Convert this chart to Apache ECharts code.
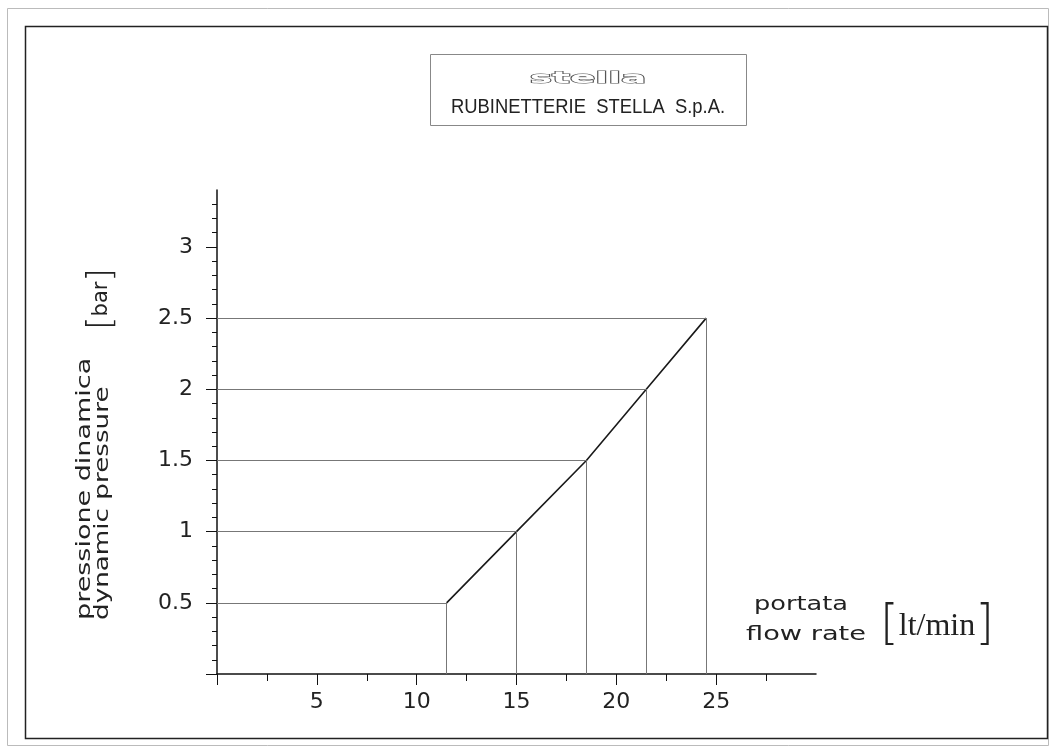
<!DOCTYPE html>
<html>
<head>
<meta charset="utf-8">
<title>stella - pressione / portata</title>
<script src="https://cdn.jsdelivr.net/npm/echarts@6/dist/echarts.min.js"></script>
<style>
    html, body { margin: 0; padding: 0; background: #fff; }
    #chart { width: 1055px; height: 754px; }
</style>
</head>
<body>
<div id="chart"></div>
<script>
// curva portata / pressione
const flowRate = [11.5, 15, 18.5, 21.5, 24.5];   // lt/min
const pressure = [0.5, 1, 1.5, 2, 2.5];          // bar

// tick labels
const xTickLabels = [5, 10, 15, 20, 25];
const yTickLabels = [0.5, 1, 1.5, 2, 2.5, 3];
const xMajorTicks = [0, 5, 10, 15, 20, 25];
const xMinorTicks = [0, 2.5, 5, 7.5, 10, 12.5, 15, 17.5, 20, 22.5, 25, 27.5];
const yMajorTicks = [0, 0.5, 1, 1.5, 2, 2.5, 3];
const yMinorTicks = [];
for (let i = 0; i <= 33; i++) yMinorTicks.push(i / 10);

const ink = '#222';
const font = 'DejaVu Sans';

let mychart = echarts.init(document.getElementById('chart'));

// linee di richiamo punto -> assi
let guides = [];
flowRate.forEach(function (x, i) {
    guides.push([{ coord: [0, pressure[i]] }, { coord: [x, pressure[i]] }]);
    guides.push([{ coord: [x, pressure[i]] }, { coord: [x, 0] }]);
});

let option = {
    animation: false,
    backgroundColor: '#fff',
    grid: { left: 217, right: 239, top: 190, bottom: 80 },
    xAxis: [
        {
            type: 'value', min: 0, max: 30,
            axisLine: { lineStyle: { color: '#111', width: 1.5 } },
            axisTick: { customValues: xMinorTicks, length: 7, lineStyle: { color: '#111' } },
            axisLabel: { show: false },
            splitLine: { show: false }
        },
        {
            type: 'value', min: 0, max: 30, position: 'bottom',
            axisLine: { show: false },
            axisTick: { customValues: xMajorTicks, length: 11, lineStyle: { color: '#111' } },
            axisLabel: {
                customValues: xTickLabels, margin: 17,
                color: ink, fontSize: 22, fontFamily: font
            },
            splitLine: { show: false }
        }
    ],
    yAxis: [
        {
            type: 'value', min: 0, max: 3.4,
            axisLine: { show: true, lineStyle: { color: '#111', width: 1.5 } },
            axisTick: { show: true, customValues: yMinorTicks, length: 5, lineStyle: { color: '#111' } },
            axisLabel: { show: false },
            splitLine: { show: false }
        },
        {
            type: 'value', min: 0, max: 3.4, position: 'left',
            axisLine: { show: false },
            axisTick: { show: true, customValues: yMajorTicks, length: 11, lineStyle: { color: '#111' } },
            axisLabel: {
                customValues: yTickLabels, margin: 24,
                color: ink, fontSize: 22, fontFamily: font
            },
            splitLine: { show: false }
        }
    ],
    series: [
        {
            type: 'line',
            xAxisIndex: 0,
            yAxisIndex: 0,
            data: flowRate.map(function (x, i) { return [x, pressure[i]]; }),
            showSymbol: false,
            lineStyle: { color: '#1a1a1a', width: 1.6 },
            markLine: {
                silent: true,
                symbol: 'none',
                label: { show: false },
                lineStyle: { color: '#777', width: 1, type: 'solid' },
                data: guides
            }
        }
    ],
    graphic: [
        // cornici
        { type: 'rect', shape: { x: 7.5, y: 8.5, width: 1041, height: 737 },
          style: { fill: null, stroke: '#bbb', lineWidth: 1 } },
        { type: 'rect', shape: { x: 25.5, y: 26.5, width: 1022, height: 712 },
          style: { fill: null, stroke: '#222', lineWidth: 1.5 } },
        // logo
        { type: 'rect', shape: { x: 430.5, y: 54.5, width: 316, height: 71 },
          style: { fill: null, stroke: '#888', lineWidth: 1 } },
        { type: 'text', x: 588, y: 79, scaleX: 2.5, scaleY: 1,
          style: { text: 'stella', fontFamily: font, fontSize: 15, fontWeight: 'bold',
                   fill: '#fff', stroke: '#555', lineWidth: 1,
                   align: 'center', verticalAlign: 'middle' } },
        { type: 'text', x: 588, y: 107, scaleX: 0.92,
          style: { text: 'RUBINETTERIE  STELLA  S.p.A.', fontFamily: 'Liberation Sans', fontSize: 20,
                   fill: ink, align: 'center', verticalAlign: 'middle' } },
        // titolo asse y
        { type: 'text', x: 85, y: 620, rotation: Math.PI / 2, scaleX: 1.35,
          style: { text: 'pressione dinamica', fontFamily: font, fontSize: 20,
                   fill: ink, align: 'left', verticalAlign: 'middle' } },
        { type: 'text', x: 103, y: 620, rotation: Math.PI / 2, scaleX: 1.31,
          style: { text: 'dynamic pressure', fontFamily: font, fontSize: 20,
                   fill: ink, align: 'left', verticalAlign: 'middle' } },
        { type: 'text', x: 102, y: 299, rotation: Math.PI / 2,
          style: {
              text: '{b|[}{t|bar}{b|]}', align: 'center', verticalAlign: 'middle',
              rich: {
                  b: { fontFamily: font, fontWeight: 200, fontSize: 34, fill: ink, verticalAlign: 'middle' },
                  t: { fontFamily: font, fontSize: 21, fill: ink, verticalAlign: 'middle' }
              }
          } },
        // titolo asse x
        { type: 'text', x: 801, y: 605, scaleX: 1.28,
          style: { text: 'portata', fontFamily: font, fontSize: 20,
                   fill: ink, align: 'center', verticalAlign: 'middle' } },
        { type: 'text', x: 806, y: 635, scaleX: 1.36,
          style: { text: 'flow rate', fontFamily: font, fontSize: 20,
                   fill: ink, align: 'center', verticalAlign: 'middle' } },
        { type: 'text', x: 937, y: 627,
          style: {
              text: '{b|[}{t|lt/min}{b|]}', align: 'center', verticalAlign: 'middle',
              rich: {
                  b: { fontFamily: font, fontWeight: 200, fontSize: 48, fill: ink, verticalAlign: 'middle' },
                  t: { fontFamily: 'Liberation Serif', fontSize: 32, fill: ink, verticalAlign: 'middle' }
              }
          } }
    ]
};
mychart.setOption(option);
</script>
</body>
</html>
